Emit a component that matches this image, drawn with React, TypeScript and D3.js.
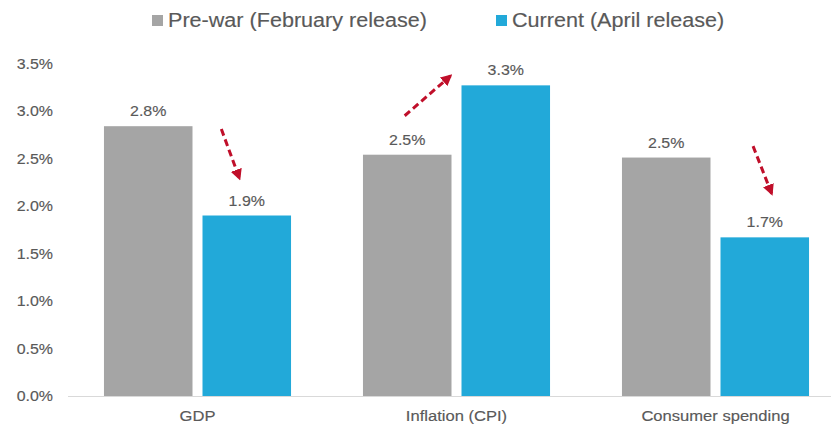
import React from "react";
import * as d3 from "d3";

const categories = ["GDP", "Inflation (CPI)", "Consumer spending"];
const seriesNames = ["Pre-war (February release)", "Current (April release)"];
const preWar = [2.84, 2.54, 2.51];
const current = [1.9, 3.27, 1.67];
const yTicks = [0, 0.5, 1.0, 1.5, 2.0, 2.5, 3.0, 3.5];
const colors = ["#A5A5A5", "#22A9D9"];
// arrows in data space: category index, x as fraction of band, y as value
const arrowDefs = [
  { cat: 0, x0: 0.592, y0: 2.81, x1: 0.662, y1: 2.29 },
  { cat: 1, x0: 0.3, y0: 2.95, x1: 0.477, y1: 3.37 },
  { cat: 2, x0: 0.645, y0: 2.63, x1: 0.717, y1: 2.13 },
];

const W = 831;
const H = 427;
const TEXT = "#595959";
const FONT = "'Liberation Sans', Arial, sans-serif";

function SText({ x, y, size, anchor = "start", sx = 1.1, children, dy }: any) {
  return (
    <text
      transform={`translate(${x},${y}) scale(${sx},1)`}
      fontSize={size}
      fontFamily={FONT}
      fill={TEXT}
      stroke={TEXT}
      strokeWidth={0.15}
      textAnchor={anchor}
      dy={dy}
    >
      {children}
    </text>
  );
}

export default function App() {
  const y = d3.scaleLinear().domain([0, 3.5]).range([396, 63.5]);
  const x = d3.scaleBand().domain(categories).range([68, 845]).padding(0);
  const xs = d3
    .scaleBand()
    .domain(seriesNames)
    .range([0, x.bandwidth()])
    .paddingInner(0.1015)
    .paddingOuter(0.365);
  const series = [preWar, current];
  const fmt = (v: number) => v.toFixed(1) + "%";

  return (
    <svg
      width={W}
      height={H}
      style={{ position: "absolute", left: 0, top: 0, background: "#fff" }}
    >
      <defs>
        <marker
          id="ah"
          viewBox="0 0 10 10"
          refX="8"
          refY="5"
          markerWidth="3.8"
          markerHeight="3.8"
          orient="auto"
        >
          <path d="M0,0 L10,5 L0,10 Z" fill="#C00F2A" />
        </marker>
      </defs>
      <rect width={W} height={H} fill="#fff" />
      {/* legend */}
      <rect x={152} y={15} width={11} height={11} fill={colors[0]} />
      <SText x={168} y={27} size={19.8} sx={1.09}>{seriesNames[0]}</SText>
      <rect x={496} y={15} width={11} height={11} fill={colors[1]} />
      <SText x={512} y={27} size={19.8} sx={1.09}>{seriesNames[1]}</SText>

      {/* y ticks */}
      {yTicks.map((t) => (
        <SText key={t} x={53} y={y(t)} size={14.5} anchor="end" sx={1.1} dy="0.35em">
          {fmt(t)}
        </SText>
      ))}

      {/* bars */}
      {categories.map((c, i) => (
        <g key={c}>
          {seriesNames.map((s, j) => {
            const v = series[j][i];
            const bx = (x(c) as number) + (xs(s) as number);
            return (
              <g key={s}>
                <rect
                  x={bx}
                  y={y(v)}
                  width={xs.bandwidth()}
                  height={y(0) - y(v)}
                  fill={colors[j]}
                />
                <SText
                  x={bx + xs.bandwidth() / 2}
                  y={y(v) - 10}
                  size={14.5}
                  anchor="middle"
                  sx={1.1}
                >
                  {fmt(v)}
                </SText>
              </g>
            );
          })}
          <SText
            x={(x(c) as number) + x.bandwidth() / 2}
            y={421}
            size={14.8}
            anchor="middle"
            sx={1.12}
          >
            {c}
          </SText>
        </g>
      ))}

      {/* baseline */}
      <line x1={68} x2={W} y1={y(0) + 0.5} y2={y(0) + 0.5} stroke="#D9D9D9" strokeWidth={1.2} />

      {/* arrows */}
      {arrowDefs.map((a, k) => {
        const bx = x(categories[a.cat]) as number;
        const bw = x.bandwidth();
        return (
          <line
            key={k}
            x1={bx + a.x0 * bw}
            y1={y(a.y0)}
            x2={bx + a.x1 * bw}
            y2={y(a.y1)}
            stroke="#C00F2A"
            strokeWidth={3}
            strokeDasharray="7,4"
            markerEnd="url(#ah)"
          />
        );
      })}
    </svg>
  );
}
